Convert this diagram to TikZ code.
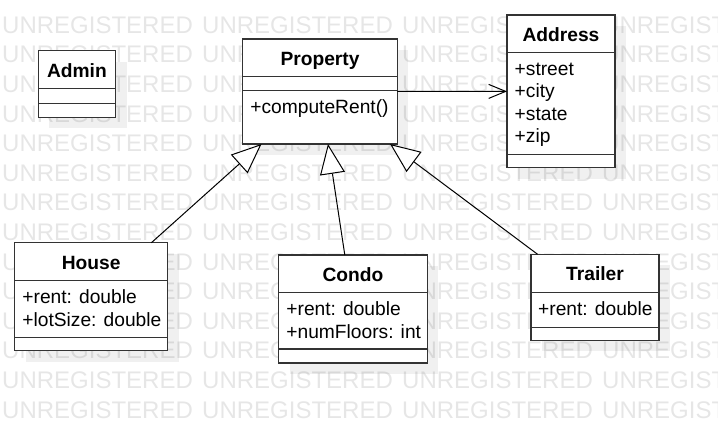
\documentclass[tikz,border=0pt]{standalone}
\usepackage{fontspec}
\setmainfont{Liberation Sans}
\usetikzlibrary{arrows.meta,shadows}

\definecolor{boxline}{HTML}{333333}
\definecolor{wmgray}{HTML}{E6E6E6}

\tikzset{
  classbox/.style={draw=boxline, line width=1.5pt, fill=white, inner sep=0pt, outer sep=0pt,
    drop shadow={shadow xshift=11pt, shadow yshift=-11pt, fill=black, opacity=0.06}},
  classname/.style={anchor=base, inner sep=0pt, font=\fontsize{19.2}{23}\selectfont\bfseries},
  member/.style={anchor=base west, inner sep=0pt, font=\fontsize{19.2}{23}\selectfont},
  divider/.style={draw=boxline, line width=1.5pt},
  watermark/.style={anchor=base west, inner sep=0pt, text=wmgray, font=\fontsize{24}{24}\selectfont},
  generalization/.style={-{Triangle[length=30pt, width=25pt, fill=white]}, line width=1pt},
  association/.style={-{Straight Barb[length=17pt, width=14pt]}, line width=1pt}
}

\begin{document}
\begin{tikzpicture}[x=1pt, y=-1pt]
    \useasboundingbox (0,0) rectangle (718,423);

    % Watermark
    \foreach \r in {0,...,13}
      \foreach \c in {0,...,3}
        \node[watermark] (wm-\r-\c) at ({2+200*\c},{33.3+29.6*\r}) {UNREGISTERED};

    % Admin
    \node[classbox, minimum width=77.2pt, minimum height=66.6pt] (admin) at (76.9,84) {};
    \node[classname] (admin-name) at (76.9,77) {Admin};
    \draw[divider] (admin.west |- 0,88.3) -- (admin.east |- 0,88.3);
    \draw[divider] (admin.west |- 0,103.3) -- (admin.east |- 0,103.3);

    % Property
    \node[classbox, minimum width=154.6pt, minimum height=105pt] (property) at (320,91.5) {};
    \node[classname] (property-name) at (320,65.2) {Property};
    \draw[divider] (property.west |- 0,76.3) -- (property.east |- 0,76.3);
    \draw[divider] (property.west |- 0,90.7) -- (property.east |- 0,90.7);
    \node[member] (property-rent) at (250.2,113.4) {+computeRent()};

    % Address
    \node[classbox, minimum width=108pt, minimum height=152.7pt] (address) at (561,91.35) {};
    \node[classname] (address-name) at (561,41.2) {Address};
    \draw[divider] (address.west |- 0,52.3) -- (address.east |- 0,52.3);
    \draw[divider] (address.west |- 0,154.3) -- (address.east |- 0,154.3);
    \node[member] (address-street) at (514.5,75) {+street};
    \node[member] (address-city) at (514.5,97.5) {+city};
    \node[member] (address-state) at (514.5,120) {+state};
    \node[member] (address-zip) at (514.5,142.5) {+zip};

    % House
    \node[classbox, minimum width=153pt, minimum height=108pt] (house) at (91.2,296.7) {};
    \node[classname] (house-name) at (91.2,269.2) {House};
    \draw[divider] (house.west |- 0,280.7) -- (house.east |- 0,280.7);
    \draw[divider] (house.west |- 0,337.3) -- (house.east |- 0,337.3);
    \node[member] (house-rent) at (22.2,303.3) {+rent: double};
    \node[member] (house-lot) at (22.2,326.3) {+lotSize: double};

    % Condo
    \node[classbox, minimum width=148.6pt, minimum height=108pt] (condo) at (353,309) {};
    \node[classname] (condo-name) at (353,281.2) {Condo};
    \draw[divider] (condo.west |- 0,292.3) -- (condo.east |- 0,292.3);
    \draw[divider] (condo.west |- 0,349) -- (condo.east |- 0,349);
    \node[member] (condo-rent) at (286.2,315) {+rent: double};
    \node[member] (condo-floors) at (286.2,338) {+numFloors: int};

    % Trailer
    \node[classbox, minimum width=128pt, minimum height=86pt] (trailer) at (595,297.3) {};
    \node[classname] (trailer-name) at (595,280.8) {Trailer};
    \draw[divider] (trailer.west |- 0,292.3) -- (trailer.east |- 0,292.3);
    \draw[divider] (trailer.west |- 0,327.3) -- (trailer.east |- 0,327.3);
    \node[member] (trailer-rent) at (538,315) {+rent: double};

    % Relations
    \draw[generalization] (house) -- (property);
    \draw[generalization] (condo) -- (property);
    \draw[generalization] (trailer) -- (property);
    \draw[association] (property) -- (address);
\end{tikzpicture}
\end{document}
